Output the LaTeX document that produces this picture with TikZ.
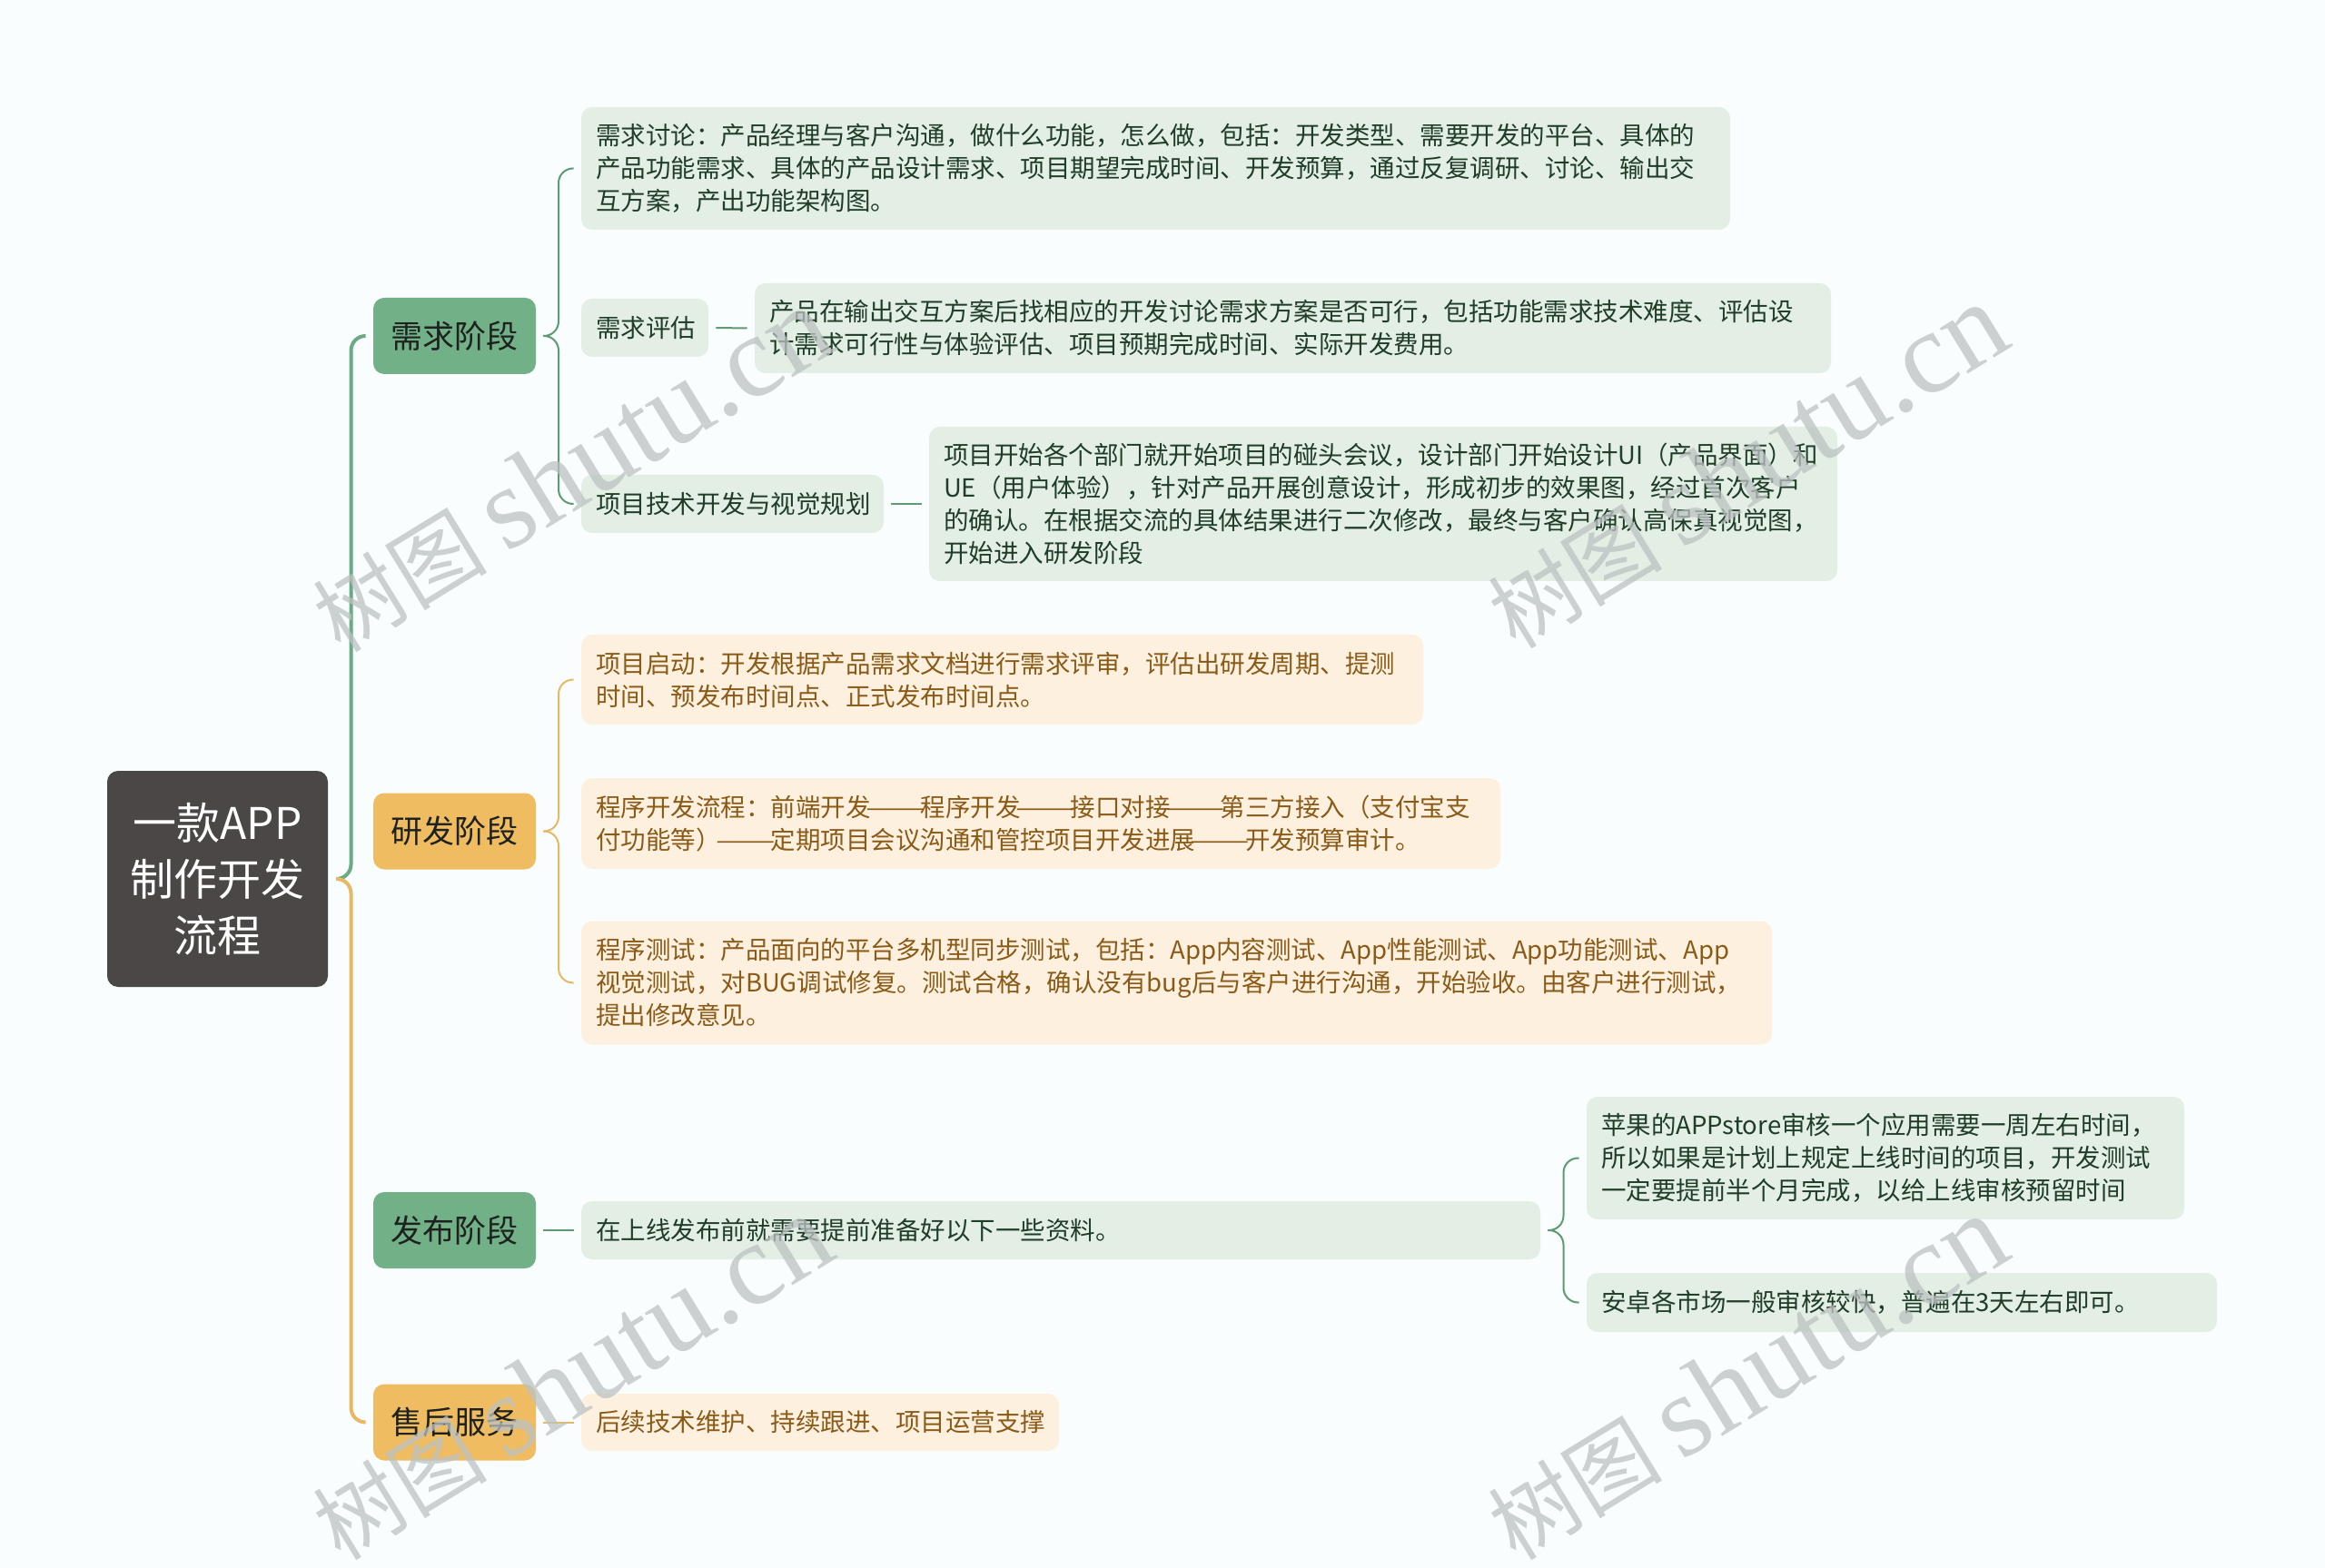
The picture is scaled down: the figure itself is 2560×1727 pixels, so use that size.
\documentclass[tikz,border=0pt]{standalone}
\usepackage{fontspec}
\setmainfont{Noto Sans CJK SC}
\newfontfamily\wmfont{Liberation Serif}
\usepackage{xcolor}
\usepackage{graphicx}
\usepackage{tikz}
\usetikzlibrary{calc}

\definecolor{bgC}{HTML}{F9FDFD}
\definecolor{rootC}{HTML}{4B4747}
\definecolor{stageG}{HTML}{72B088}
\definecolor{stageO}{HTML}{F0BC62}
\definecolor{stageT}{HTML}{1E221F}
\definecolor{leafG}{HTML}{E3EEE5}
\definecolor{leafO}{HTML}{FDF0DF}
\definecolor{txtG}{HTML}{1F3D27}
\definecolor{txtO}{HTML}{8A5A17}
\definecolor{lineG}{HTML}{6AAA84}
\definecolor{subG}{HTML}{5E9A72}
\definecolor{lineO}{HTML}{E7B964}
\definecolor{wmC}{HTML}{BCC2C2}

% long dash pair, two full characters wide
\newcommand\ddash{\makebox[2em]{\scalebox{1.42}[1]{——}}}

\tikzset{
  stage/.style={rounded corners=6pt, minimum width=89.5pt, minimum height=42pt, inner sep=0pt,
    text=stageT, font=\fontsize{17.5}{21}\selectfont},
  gstage/.style={stage, fill=stageG},
  ostage/.style={stage, fill=stageO},
  leaf/.style={rounded corners=6pt, inner xsep=8pt, inner ysep=0pt, align=left,
    font=\fontsize{13.75}{18}\selectfont},
  gleaf/.style={leaf, fill=leafG, text=txtG},
  oleaf/.style={leaf, fill=leafO, text=txtO},
  gtrunk/.style={draw=lineG, line width=2pt, rounded corners=8pt},
  otrunk/.style={draw=lineO, line width=2pt, rounded corners=8pt},
  gsub/.style={draw=subG, line width=1pt, rounded corners=8pt},
  osub/.style={draw=lineO, line width=1pt, rounded corners=8pt},
  gtie/.style={draw=subG, line width=1pt, shorten <=4pt, shorten >=4pt},
  otie/.style={draw=lineO, line width=1pt, shorten <=4pt, shorten >=4pt},
  wmark/.style={rotate=31.5, text=wmC, opacity=0.75, inner sep=0pt}
}

\begin{document}
\begin{tikzpicture}[x=0.5pt,y=0.5pt,yscale=-1,xscale=1]
	%set diagram to 2560 x 1727
	\fill[bgC] (0,0) rectangle (2560,1727);
	\useasboundingbox (0,0) rectangle (2560,1727);

	% Root Node
	\draw (239.5,968) node (root) [fill=rootC, rounded corners=6pt, minimum width=121.5pt, minimum height=119pt,
	  text=white, align=center, font=\fontsize{24}{31}\selectfont] {一款APP\\制作开发\\流程};

	% Stage Nodes
	\draw (500.5,370) node (q) [gstage] {需求阶段};
	\draw (500.5,915.5) node (y) [ostage] {研发阶段};
	\draw (500.5,1355) node (f) [gstage] {发布阶段};
	\draw (500.5,1566.5) node (s) [ostage] {售后服务};

	% Text Node
	\draw (1272.5,185.5) node (q1) [gleaf, text width=616.5pt, minimum height=67.5pt] {需求讨论：产品经理与客户沟通，做什么功能，怎么做，包括：开发类型、需要开发的平台、具体的\\产品功能需求、具体的产品设计需求、项目期望完成时间、开发预算，通过反复调研、讨论、输出交\\互方案，产出功能架构图。};
	% Text Node
	\draw (710,361) node (q2) [gleaf, text width=54pt, minimum height=32pt] {需求评估};
	% Text Node
	\draw (1423.5,361.5) node (q2d) [gleaf, text width=576.5pt, minimum height=49.5pt] {产品在输出交互方案后找相应的开发讨论需求方案是否可行，包括功能需求技术难度、评估设\\计需求可行性与体验评估、项目预期完成时间、实际开发费用。};
	% Text Node
	\draw (806.5,555) node (q3) [gleaf, text width=150.5pt, minimum height=32pt] {项目技术开发与视觉规划};
	% Text Node
	\draw (1523,555) node (q3d) [gleaf, text width=484pt, minimum height=85pt] {项目开始各个部门就开始项目的碰头会议，设计部门开始设计UI（产品界面）和\\UE（用户体验），针对产品开展创意设计，形成初步的效果图，经过首次客户\\的确认。在根据交流的具体结果进行二次修改，最终与客户确认高保真视觉图，\\开始进入研发阶段};

	% Text Node
	\draw (1103.5,748.5) node (y1) [oleaf, text width=447.5pt, minimum height=49.5pt] {项目启动：开发根据产品需求文档进行需求评审，评估出研发周期、提测\\时间、预发布时间点、正式发布时间点。};
	% Text Node
	\draw (1146,907) node (y2) [oleaf, text width=490pt, minimum height=50pt] {程序开发流程：前端开发\ddash 程序开发\ddash 接口对接\ddash 第三方接入（支付宝支\\付功能等）\ddash 定期项目会议沟通和管控项目开发进展\ddash 开发预算审计。};
	% Text Node
	\draw (1295.5,1082.5) node (y3) [oleaf, text width=639.5pt, minimum height=68pt] {程序测试：产品面向的平台多机型同步测试，包括：App内容测试、App性能测试、App功能测试、App\\视觉测试，对BUG调试修复。测试合格，确认没有bug后与客户进行沟通，开始验收。由客户进行测试，\\提出修改意见。};

	% Text Node
	\draw (1168,1355) node (f1) [gleaf, text width=512pt, minimum height=32pt] {在上线发布前就需要提前准备好以下一些资料。};
	% Text Node
	\draw (2076,1275.5) node (f1a) [gleaf, text width=313pt, minimum height=67.5pt] {苹果的APPstore审核一个应用需要一周左右时间，\\所以如果是计划上规定上线时间的项目，开发测试\\一定要提前半个月完成，以给上线审核预留时间};
	% Text Node
	\draw (2094,1434.5) node (f1b) [gleaf, text width=331pt, minimum height=32.5pt] {安卓各市场一般审核较快，普遍在3天左右即可。};

	% Text Node
	\draw (903,1566.5) node (s1) [oleaf, text width=247pt, minimum height=31.5pt] {后续技术维护、持续跟进、项目运营支撑};

	% Curve Lines (root)
	\coordinate (rj) at ([xshift=4.5pt]root.east);
	\coordinate (qin) at ([xshift=-4pt]q.west);
	\coordinate (sin) at ([xshift=-4pt]s.west);
	\draw[gtrunk] (rj) -| ($(rj)!0.5!(qin)$) |- (qin);
	\draw[otrunk] (rj) -| ($(rj)!0.5!(sin)$) |- (sin);

	% Curve Lines (stages)
	\coordinate (qa) at ([xshift=4pt]q.east);
	\coordinate (q1w) at ([xshift=-4pt]q1.west);
	\coordinate (q3w) at ([xshift=-4pt]q3.west);
	\draw[gsub] (qa) -| ($(qa)!0.5!(q1w)$) |- (q1w);
	\draw[gsub] (qa) -| ($(qa)!0.5!(q3w)$) |- (q3w);

	\coordinate (ya) at ([xshift=4pt]y.east);
	\coordinate (y1w) at ([xshift=-4pt]y1.west);
	\coordinate (y3w) at ([xshift=-4pt]y3.west);
	\draw[osub] (ya) -| ($(ya)!0.5!(y1w)$) |- (y1w);
	\draw[osub] (ya) -| ($(ya)!0.5!(y3w)$) |- (y3w);

	\coordinate (fa) at ([xshift=4pt]f1.east);
	\coordinate (fAw) at ([xshift=-4pt]f1a.west);
	\coordinate (fBw) at ([xshift=-4pt]f1b.west);
	\draw[gsub] (fa) -| ($(fa)!0.5!(fAw)$) |- (fAw);
	\draw[gsub] (fa) -| ($(fa)!0.5!(fBw)$) |- (fBw);

	%Straight Lines
	\draw[gtie] (q2.east) -- (q2d.west);
	\draw[gtie] (q3.east) -- (q3d.west);
	\draw[gtie] (f.east) -- (f1.west);
	\draw[otie] (s.east) -- (s1.west);

	% Watermarks
	\foreach \wx/\wy [count=\i] in {629/518, 1923/514, 629/1518, 1923/1518}
	  \draw (\wx,\wy) node (wm\i) [wmark] {\fontsize{48}{48}\selectfont 树图\ {\wmfont\fontsize{64}{64}\selectfont shutu.cn}};
\end{tikzpicture}
\end{document}
